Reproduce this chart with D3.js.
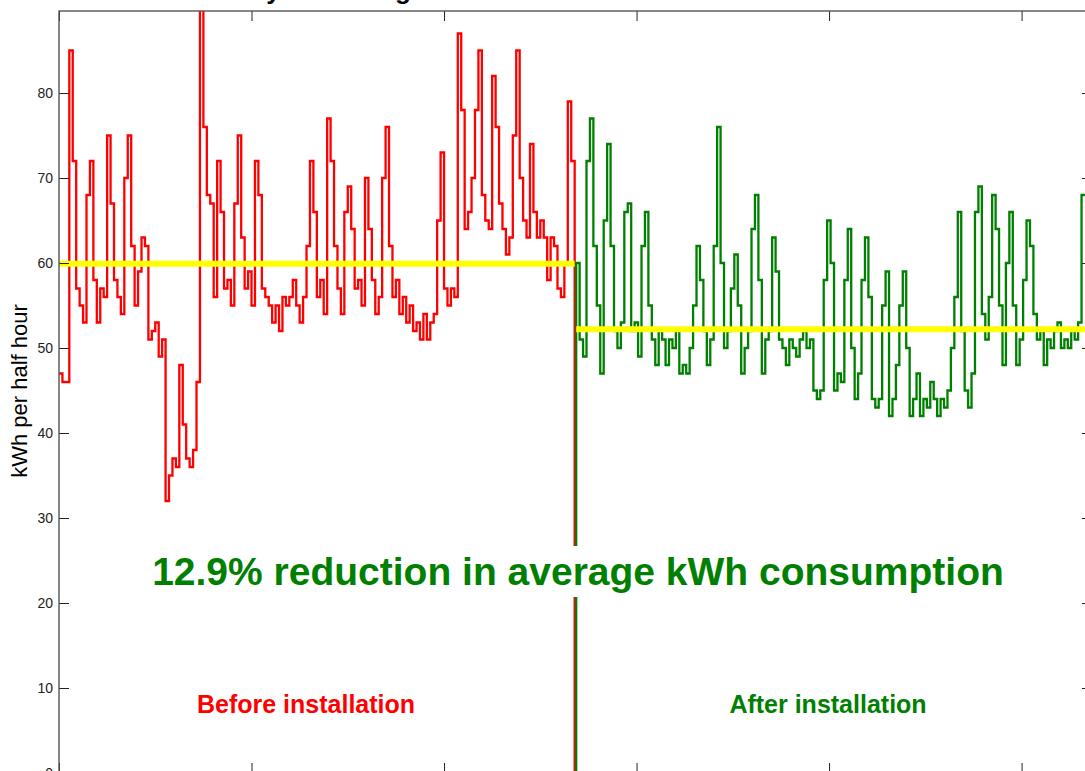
<!DOCTYPE html>
<html>
<head>
<meta charset="utf-8">
<script src="https://cdnjs.cloudflare.com/ajax/libs/d3/7.8.5/d3.min.js"></script>
<style>
	body { margin: 0; background: #fff; overflow: hidden; }
	svg { display: block; font-family: "Liberation Sans", Arial, sans-serif; }
</style>
</head>
<body>
<div id="chart"></div>
<script>

		// half hourly kWh, one value every 3 hours
		var beforeKwh = [47,46,46,85,72,57,55,53,68,72,58,53,57,56,75,67,58,56,54,70,
			75,62,55,59,63,62,51,52,53,49,51,32,35,37,36,48,41,37,36,38,
			46,91,76,68,67,56,72,66,57,58,55,67,75,63,57,59,55,72,68,57,
			56,55,53,55,52,56,55,56,58,55,53,56,62,72,66,56,58,54,77,72,
			62,57,54,66,69,64,57,58,55,70,64,58,54,56,70,76,62,56,58,54,
			56,53,55,52,53,51,54,51,53,54,65,73,57,55,57,56,87,78,64,66,
			70,78,85,68,65,64,82,76,67,64,61,63,75,85,70,65,63,74,66,63,
			65,63,58,63,62,57,56,60,79,72,0];

		var afterKwh = [0,60,51,49,72,77,62,55,47,65,74,62,52,50,53,66,67,52,53,49,
			62,66,55,51,48,52,51,48,51,50,52,47,48,47,50,55,62,58,52,48,
			51,62,76,60,50,52,57,61,55,47,50,52,64,68,58,47,51,52,63,59,
			51,50,48,51,50,49,51,52,50,51,45,44,45,58,65,60,45,47,46,58,
			64,50,44,47,58,63,56,44,43,44,55,59,42,44,48,55,59,50,42,44,
			47,42,44,43,46,44,42,44,43,45,50,56,66,52,45,43,47,66,69,54,
			51,56,68,64,55,48,60,66,55,48,51,58,65,62,54,51,52,48,51,50,
			52,53,50,51,50,52,51,53,68,68,66];

		var stepDays = 1 / 8;
		var beforeStart = 0;
		var afterStart = 18.68;
		var lastDay = 37.56;

		var beforeAvg = 59.9;
		var afterAvg = 52.2;

		var yTicks = [0, 10, 20, 30, 40, 50, 60, 70, 80];
		var dayTicks = [0, 7, 14, 21, 28, 35];

		var fullwidth = 1085;
		var fullheight = 771;

		// plot box (right and bottom edges run a little past the window)
		var box = { left: 59, top: 11, right: 1092, bottom: 773 };

		var svg = d3.select("#chart")
				.append("svg")
				.attr("width", fullwidth)
				.attr("height", fullheight);

		var xScale = d3.scaleLinear()
				.domain([0, lastDay])
				.range([box.left, box.right]);

		var yScale = d3.scaleLinear()
				.domain([0, 89.65])
				.range([box.bottom, box.top]);

		svg.append("clipPath")
			.attr("id", "plotclip")
			.append("rect")
			.attr("x", box.left)
			.attr("y", box.top)
			.attr("width", box.right - box.left)
			.attr("height", box.bottom - box.top);

		// title, only the bottom of it shows
		svg.append("text")
			.attr("x", 145)
			.attr("y", -1)
			.style("font-size", "26px")
			.style("font-weight", "bold")
			.style("fill", "#000")
			.text("Half hourly kWh usage");

		function seriesLine(start) {
			return d3.line()
				.x(function(d, i) { return xScale(start + i * stepDays); })
				.y(function(d) { return yScale(d); })
				.curve(d3.curveStepAfter);
		}

		var plot = svg.append("g")
				.attr("clip-path", "url(#plotclip)");

		plot.append("path")
			.datum(beforeKwh)
			.attr("fill", "none")
			.attr("stroke", "#ff0000")
			.attr("stroke-width", 2.3)
			.attr("d", seriesLine(beforeStart));

		plot.append("path")
			.datum(afterKwh)
			.attr("fill", "none")
			.attr("stroke", "#008000")
			.attr("stroke-width", 2.3)
			.attr("d", seriesLine(afterStart));

		// average lines
		var beforeEnd = beforeStart + (beforeKwh.length - 1) * stepDays;

		plot.append("line")
			.attr("x1", xScale(beforeStart))
			.attr("x2", xScale(beforeEnd))
			.attr("y1", yScale(beforeAvg))
			.attr("y2", yScale(beforeAvg))
			.attr("stroke", "#ffff00")
			.attr("stroke-width", 6);

		plot.append("line")
			.attr("x1", xScale(afterStart + stepDays))
			.attr("x2", xScale(lastDay))
			.attr("y1", yScale(afterAvg))
			.attr("y2", yScale(afterAvg))
			.attr("stroke", "#ffff00")
			.attr("stroke-width", 6);

		// axes, ticks point inwards on all four sides
		var yAxis = d3.axisLeft(yScale)
				.tickValues(yTicks)
				.tickSizeInner(-10)
				.tickSizeOuter(0)
				.tickPadding(6);

		var yAxisRight = d3.axisRight(yScale)
				.tickValues(yTicks)
				.tickSizeInner(-10)
				.tickSizeOuter(0)
				.tickFormat("");

		var xAxisTop = d3.axisTop(xScale)
				.tickValues(dayTicks)
				.tickSizeInner(-10)
				.tickSizeOuter(0)
				.tickFormat("");

		// bottom labels fall below the window, so only the ticks are drawn
		var xAxisBottom = d3.axisBottom(xScale)
				.tickValues(dayTicks)
				.tickSizeInner(-10)
				.tickSizeOuter(0)
				.tickFormat("");

		svg.append("g")
			.attr("class", "y axis")
			.attr("transform", "translate(" + box.left + ",0)")
			.call(yAxis);

		svg.append("g")
			.attr("class", "y axis")
			.attr("transform", "translate(" + box.right + ",0)")
			.call(yAxisRight);

		svg.append("g")
			.attr("class", "x axis")
			.attr("transform", "translate(0," + box.top + ")")
			.call(xAxisTop);

		svg.append("g")
			.attr("class", "x axis")
			.attr("transform", "translate(0," + box.bottom + ")")
			.call(xAxisBottom);

		svg.selectAll(".axis .domain").remove();
		svg.selectAll(".axis line").attr("stroke", "#222");
		svg.selectAll(".axis text")
			.style("font-size", "14px")
			.style("font-family", "'Liberation Sans', Arial, sans-serif")
			.attr("fill", "#222");

		svg.append("rect")
			.attr("x", box.left)
			.attr("y", box.top)
			.attr("width", box.right - box.left)
			.attr("height", box.bottom - box.top)
			.attr("fill", "none")
			.attr("stroke", "#555")
			.attr("stroke-width", 1.4);

		svg.append("text")
			.attr("transform", "translate(27,391) rotate(-90)")
			.style("text-anchor", "middle")
			.style("font-size", "22px")
			.style("fill", "#000")
			.text("kWh per half hour");

		// headline text sits on a white box
		svg.append("rect")
			.attr("x", 146)
			.attr("y", 546)
			.attr("width", 866)
			.attr("height", 51)
			.attr("fill", "#fff");

		svg.append("text")
			.attr("x", 578)
			.attr("y", 585)
			.style("text-anchor", "middle")
			.style("font-size", "39px")
			.style("font-weight", "bold")
			.style("fill", "#008000")
			.text("12.9% reduction in average kWh consumption");

		svg.append("text")
			.attr("x", 306)
			.attr("y", 713)
			.style("text-anchor", "middle")
			.style("font-size", "25px")
			.style("font-weight", "bold")
			.style("fill", "#ff0000")
			.text("Before installation");

		svg.append("text")
			.attr("x", 828)
			.attr("y", 713)
			.style("text-anchor", "middle")
			.style("font-size", "25px")
			.style("font-weight", "bold")
			.style("fill", "#008000")
			.text("After installation");

</script>
</body>
</html>
